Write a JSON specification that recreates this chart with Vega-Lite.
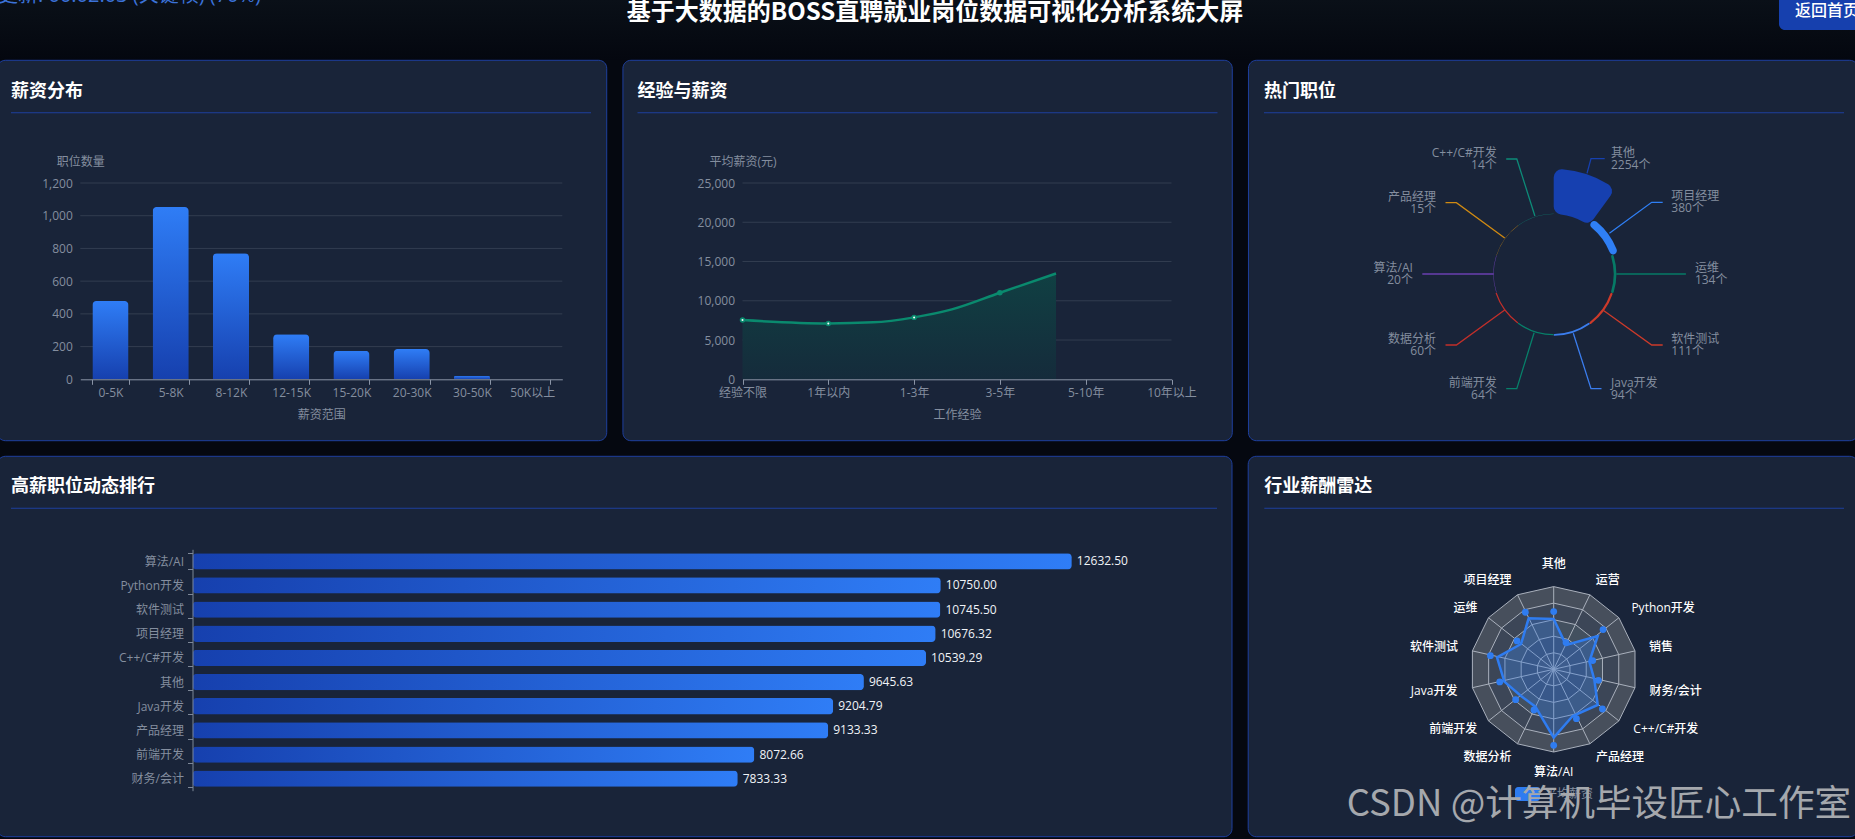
{
  "$schema": "https://vega.github.io/schema/vega-lite/v6.json",
  "width": 1855,
  "height": 839,
  "autosize": "none",
  "padding": 0,
  "background": "#050810",
  "config": {
    "font": "'Open Sans', 'Noto Sans CJK SC'",
    "view": {"stroke": null},
    "axis": {
      "grid": false,
      "labelColor": "#848e9f",
      "labelFontSize": 12,
      "labelOverlap": false,
      "labelFlush": false,
      "titleColor": "#848e9f",
      "titleFontSize": 12,
      "titleFontWeight": "normal",
      "domainColor": "#8a94a6",
      "tickColor": "#8a94a6"
    }
  },
  "datasets": {
    "salary": [
      {"range": "0-5K", "count": 478},
      {"range": "5-8K", "count": 1053},
      {"range": "8-12K", "count": 770},
      {"range": "12-15K", "count": 275},
      {"range": "15-20K", "count": 175},
      {"range": "20-30K", "count": 185},
      {"range": "30-50K", "count": 22},
      {"range": "50K以上", "count": 0}
    ],
    "experience": [
      {"step": 0, "pay": 7543},
      {"step": 1, "pay": 7120},
      {"step": 1.52, "pay": 7250},
      {"step": 2, "pay": 7886},
      {"step": 2.44, "pay": 8900},
      {"step": 3, "pay": 11020},
      {"step": 3.654, "pay": 13480}
    ],
    "jobs": [
      {"job": "其他", "seat": 0, "seatEnd": 1, "count": 2254},
      {"job": "项目经理", "seat": 1, "seatEnd": 2, "count": 380},
      {"job": "运维", "seat": 2, "seatEnd": 3, "count": 134},
      {"job": "软件测试", "seat": 3, "seatEnd": 4, "count": 111},
      {"job": "Java开发", "seat": 4, "seatEnd": 5, "count": 94},
      {"job": "前端开发", "seat": 5, "seatEnd": 6, "count": 64},
      {"job": "数据分析", "seat": 6, "seatEnd": 7, "count": 60},
      {"job": "算法/AI", "seat": 7, "seatEnd": 8, "count": 20},
      {"job": "产品经理", "seat": 8, "seatEnd": 9, "count": 15},
      {"job": "C++/C#开发", "seat": 9, "seatEnd": 10, "count": 14}
    ],
    "leaders": [
      {"job": "其他", "seq": 0, "lx": 33.3, "ly": 100.7},
      {"job": "其他", "seq": 1, "lx": 37.3, "ly": 115.3},
      {"job": "其他", "seq": 2, "lx": 51, "ly": 115.3},
      {"job": "项目经理", "seq": 0, "lx": 55.7, "ly": 40.7},
      {"job": "项目经理", "seq": 1, "lx": 98, "ly": 71.7},
      {"job": "项目经理", "seq": 2, "lx": 109, "ly": 71.7},
      {"job": "运维", "seq": 0, "lx": 62.7, "ly": 0},
      {"job": "运维", "seq": 1, "lx": 121.6, "ly": 0},
      {"job": "运维", "seq": 2, "lx": 132.2, "ly": 0},
      {"job": "软件测试", "seq": 0, "lx": 50.2, "ly": -36.7},
      {"job": "软件测试", "seq": 1, "lx": 98, "ly": -71},
      {"job": "软件测试", "seq": 2, "lx": 109, "ly": -71},
      {"job": "Java开发", "seq": 0, "lx": 19.6, "ly": -59.3},
      {"job": "Java开发", "seq": 1, "lx": 37.3, "ly": -114.7},
      {"job": "Java开发", "seq": 2, "lx": 47.8, "ly": -114.7},
      {"job": "前端开发", "seq": 0, "lx": -19.6, "ly": -58.7},
      {"job": "前端开发", "seq": 1, "lx": -36.9, "ly": -114.7},
      {"job": "前端开发", "seq": 2, "lx": -47.5, "ly": -114.7},
      {"job": "数据分析", "seq": 0, "lx": -49, "ly": -36},
      {"job": "数据分析", "seq": 1, "lx": -97.3, "ly": -71},
      {"job": "数据分析", "seq": 2, "lx": -108.2, "ly": -71},
      {"job": "算法/AI", "seq": 0, "lx": -60, "ly": 0},
      {"job": "算法/AI", "seq": 1, "lx": -120.4, "ly": 0},
      {"job": "算法/AI", "seq": 2, "lx": -131.4, "ly": 0},
      {"job": "产品经理", "seq": 0, "lx": -49, "ly": 36},
      {"job": "产品经理", "seq": 1, "lx": -97.3, "ly": 71.3},
      {"job": "产品经理", "seq": 2, "lx": -108.2, "ly": 71.3},
      {"job": "C++/C#开发", "seq": 0, "lx": -18.8, "ly": 58},
      {"job": "C++/C#开发", "seq": 1, "lx": -36.9, "ly": 115},
      {"job": "C++/C#开发", "seq": 2, "lx": -47.5, "ly": 115}
    ],
    "jobLabels": [
      {"label": "其他\n2254个", "side": "right", "lx": 57.3, "ly": 115.3},
      {"label": "项目经理\n380个", "side": "right", "lx": 117.6, "ly": 71.7},
      {"label": "运维\n134个", "side": "right", "lx": 141.2, "ly": 0},
      {"label": "软件测试\n111个", "side": "right", "lx": 117.6, "ly": -71},
      {"label": "Java开发\n94个", "side": "right", "lx": 57.3, "ly": -114.7},
      {"label": "前端开发\n64个", "side": "left", "lx": -56.9, "ly": -114.7},
      {"label": "数据分析\n60个", "side": "left", "lx": -117.6, "ly": -71},
      {"label": "算法/AI\n20个", "side": "left", "lx": -140.8, "ly": 0},
      {"label": "产品经理\n15个", "side": "left", "lx": -117.6, "ly": 71.3},
      {"label": "C++/C#开发\n14个", "side": "left", "lx": -56.9, "ly": 115}
    ],
    "ranking": [
      {"job": "算法/AI", "pay": 12632.5},
      {"job": "Python开发", "pay": 10750},
      {"job": "软件测试", "pay": 10745.5},
      {"job": "项目经理", "pay": 10676.32},
      {"job": "C++/C#开发", "pay": 10539.29},
      {"job": "其他", "pay": 9645.63},
      {"job": "Java开发", "pay": 9204.79},
      {"job": "产品经理", "pay": 9133.33},
      {"job": "前端开发", "pay": 8072.66},
      {"job": "财务/会计", "pay": 7833.33}
    ],
    "radarGrid": [
      {"ring": 5, "i": 0, "gx": 0, "gy": 1}, {"ring": 5, "i": 1, "gx": 0.4339, "gy": 0.901}, {"ring": 5, "i": 2, "gx": 0.7818, "gy": 0.6235}, {"ring": 5, "i": 3, "gx": 0.9749, "gy": 0.2225}, {"ring": 5, "i": 4, "gx": 0.9749, "gy": -0.2225}, {"ring": 5, "i": 5, "gx": 0.7818, "gy": -0.6235}, {"ring": 5, "i": 6, "gx": 0.4339, "gy": -0.901}, {"ring": 5, "i": 7, "gx": 0, "gy": -1}, {"ring": 5, "i": 8, "gx": -0.4339, "gy": -0.901}, {"ring": 5, "i": 9, "gx": -0.7818, "gy": -0.6235}, {"ring": 5, "i": 10, "gx": -0.9749, "gy": -0.2225}, {"ring": 5, "i": 11, "gx": -0.9749, "gy": 0.2225}, {"ring": 5, "i": 12, "gx": -0.7818, "gy": 0.6235}, {"ring": 5, "i": 13, "gx": -0.4339, "gy": 0.901},
      {"ring": 4, "i": 0, "gx": 0, "gy": 0.8}, {"ring": 4, "i": 1, "gx": 0.3471, "gy": 0.7208}, {"ring": 4, "i": 2, "gx": 0.6254, "gy": 0.4988}, {"ring": 4, "i": 3, "gx": 0.7799, "gy": 0.178}, {"ring": 4, "i": 4, "gx": 0.7799, "gy": -0.178}, {"ring": 4, "i": 5, "gx": 0.6254, "gy": -0.4988}, {"ring": 4, "i": 6, "gx": 0.3471, "gy": -0.7208}, {"ring": 4, "i": 7, "gx": 0, "gy": -0.8}, {"ring": 4, "i": 8, "gx": -0.3471, "gy": -0.7208}, {"ring": 4, "i": 9, "gx": -0.6254, "gy": -0.4988}, {"ring": 4, "i": 10, "gx": -0.7799, "gy": -0.178}, {"ring": 4, "i": 11, "gx": -0.7799, "gy": 0.178}, {"ring": 4, "i": 12, "gx": -0.6254, "gy": 0.4988}, {"ring": 4, "i": 13, "gx": -0.3471, "gy": 0.7208},
      {"ring": 3, "i": 0, "gx": 0, "gy": 0.6}, {"ring": 3, "i": 1, "gx": 0.2603, "gy": 0.5406}, {"ring": 3, "i": 2, "gx": 0.4691, "gy": 0.3741}, {"ring": 3, "i": 3, "gx": 0.5849, "gy": 0.1335}, {"ring": 3, "i": 4, "gx": 0.5849, "gy": -0.1335}, {"ring": 3, "i": 5, "gx": 0.4691, "gy": -0.3741}, {"ring": 3, "i": 6, "gx": 0.2603, "gy": -0.5406}, {"ring": 3, "i": 7, "gx": 0, "gy": -0.6}, {"ring": 3, "i": 8, "gx": -0.2603, "gy": -0.5406}, {"ring": 3, "i": 9, "gx": -0.4691, "gy": -0.3741}, {"ring": 3, "i": 10, "gx": -0.5849, "gy": -0.1335}, {"ring": 3, "i": 11, "gx": -0.5849, "gy": 0.1335}, {"ring": 3, "i": 12, "gx": -0.4691, "gy": 0.3741}, {"ring": 3, "i": 13, "gx": -0.2603, "gy": 0.5406},
      {"ring": 2, "i": 0, "gx": 0, "gy": 0.4}, {"ring": 2, "i": 1, "gx": 0.1736, "gy": 0.3604}, {"ring": 2, "i": 2, "gx": 0.3127, "gy": 0.2494}, {"ring": 2, "i": 3, "gx": 0.39, "gy": 0.089}, {"ring": 2, "i": 4, "gx": 0.39, "gy": -0.089}, {"ring": 2, "i": 5, "gx": 0.3127, "gy": -0.2494}, {"ring": 2, "i": 6, "gx": 0.1736, "gy": -0.3604}, {"ring": 2, "i": 7, "gx": 0, "gy": -0.4}, {"ring": 2, "i": 8, "gx": -0.1736, "gy": -0.3604}, {"ring": 2, "i": 9, "gx": -0.3127, "gy": -0.2494}, {"ring": 2, "i": 10, "gx": -0.39, "gy": -0.089}, {"ring": 2, "i": 11, "gx": -0.39, "gy": 0.089}, {"ring": 2, "i": 12, "gx": -0.3127, "gy": 0.2494}, {"ring": 2, "i": 13, "gx": -0.1736, "gy": 0.3604},
      {"ring": 1, "i": 0, "gx": 0, "gy": 0.2}, {"ring": 1, "i": 1, "gx": 0.0868, "gy": 0.1802}, {"ring": 1, "i": 2, "gx": 0.1564, "gy": 0.1247}, {"ring": 1, "i": 3, "gx": 0.195, "gy": 0.0445}, {"ring": 1, "i": 4, "gx": 0.195, "gy": -0.0445}, {"ring": 1, "i": 5, "gx": 0.1564, "gy": -0.1247}, {"ring": 1, "i": 6, "gx": 0.0868, "gy": -0.1802}, {"ring": 1, "i": 7, "gx": 0, "gy": -0.2}, {"ring": 1, "i": 8, "gx": -0.0868, "gy": -0.1802}, {"ring": 1, "i": 9, "gx": -0.1564, "gy": -0.1247}, {"ring": 1, "i": 10, "gx": -0.195, "gy": -0.0445}, {"ring": 1, "i": 11, "gx": -0.195, "gy": 0.0445}, {"ring": 1, "i": 12, "gx": -0.1564, "gy": 0.1247}, {"ring": 1, "i": 13, "gx": -0.0868, "gy": 0.1802}
    ],
    "radarSpokes": [
      {"spoke": 0, "end": 0, "gx": 0, "gy": 1}, {"spoke": 0, "end": 1, "gx": 0, "gy": -1},
      {"spoke": 1, "end": 0, "gx": 0.4339, "gy": 0.901}, {"spoke": 1, "end": 1, "gx": -0.4339, "gy": -0.901},
      {"spoke": 2, "end": 0, "gx": 0.7818, "gy": 0.6235}, {"spoke": 2, "end": 1, "gx": -0.7818, "gy": -0.6235},
      {"spoke": 3, "end": 0, "gx": 0.9749, "gy": 0.2225}, {"spoke": 3, "end": 1, "gx": -0.9749, "gy": -0.2225},
      {"spoke": 4, "end": 0, "gx": 0.9749, "gy": -0.2225}, {"spoke": 4, "end": 1, "gx": -0.9749, "gy": 0.2225},
      {"spoke": 5, "end": 0, "gx": 0.7818, "gy": -0.6235}, {"spoke": 5, "end": 1, "gx": -0.7818, "gy": 0.6235},
      {"spoke": 6, "end": 0, "gx": 0.4339, "gy": -0.901}, {"spoke": 6, "end": 1, "gx": -0.4339, "gy": 0.901}
    ],
    "radar": [
      {"job": "其他", "i": 0, "dotX": 0, "dotY": 0.698, "lineX": 0, "lineY": 0.609, "labelX": 0, "labelY": 1.27},
      {"job": "运营", "i": 1, "dotX": 0.148, "dotY": 0.323, "lineX": 0.148, "lineY": 0.294, "labelX": 0.649, "labelY": 1.076},
      {"job": "Python开发", "i": 2, "dotX": 0.592, "dotY": 0.48, "lineX": 0.528, "lineY": 0.403, "labelX": 1.312, "labelY": 0.746},
      {"job": "销售", "i": 3, "dotX": 0.468, "dotY": 0.105, "lineX": 0.428, "lineY": 0.093, "labelX": 1.288, "labelY": 0.275},
      {"job": "财务/会计", "i": 4, "dotX": 0.536, "dotY": -0.133, "lineX": 0.488, "lineY": -0.129, "labelX": 1.462, "labelY": -0.258},
      {"job": "C++/C#开发", "i": 5, "dotX": 0.584, "dotY": -0.48, "lineX": 0.528, "lineY": -0.431, "labelX": 1.345, "labelY": -0.726},
      {"job": "产品经理", "i": 6, "dotX": 0.272, "dotY": -0.597, "lineX": 0.228, "lineY": -0.565, "labelX": 0.795, "labelY": -1.056},
      {"job": "算法/AI", "i": 7, "dotX": 0, "dotY": -0.919, "lineX": 0, "lineY": -0.827, "labelX": 0, "labelY": -1.245},
      {"job": "数据分析", "i": 8, "dotX": -0.236, "dotY": -0.492, "lineX": -0.22, "lineY": -0.452, "labelX": -0.795, "labelY": -1.056},
      {"job": "前端开发", "i": 9, "dotX": -0.456, "dotY": -0.367, "lineX": -0.392, "lineY": -0.323, "labelX": -1.204, "labelY": -0.726},
      {"job": "Java开发", "i": 10, "dotX": -0.647, "dotY": -0.153, "lineX": -0.592, "lineY": -0.149, "labelX": -1.434, "labelY": -0.258},
      {"job": "软件测试", "i": 11, "dotX": -0.759, "dotY": 0.165, "lineX": -0.68, "lineY": 0.145, "labelX": -1.434, "labelY": 0.275},
      {"job": "运维", "i": 12, "dotX": -0.44, "dotY": 0.343, "lineX": -0.392, "lineY": 0.306, "labelX": -1.058, "labelY": 0.746},
      {"job": "项目经理", "i": 13, "dotX": -0.34, "dotY": 0.69, "lineX": -0.3, "lineY": 0.617, "labelX": -0.795, "labelY": 1.076}
    ]
  },
  "resolve": {
    "scale": {"x": "independent", "y": "independent", "color": "independent", "fill": "independent", "theta": "independent", "radius": "independent"},
    "axis": {"x": "independent", "y": "independent"}
  },
  "layer": [
    {
      "data": {"values": [{"area": "header"}]},
      "mark": {"type": "rect", "fill": {"gradient": "linear", "x1": 0, "y1": 0, "x2": 0, "y2": 1, "stops": [{"offset": 0, "color": "#0a1018"}, {"offset": 1, "color": "#04070f"}]}},
      "encoding": {
        "x": {"field": "area", "type": "nominal", "axis": null, "scale": {"type": "band", "range": [0, 1855], "paddingInner": 0, "paddingOuter": 0}},
        "y": {"field": "area", "type": "nominal", "axis": null, "scale": {"type": "band", "range": [0, 60], "paddingInner": 0, "paddingOuter": 0}}
      }
    },
    {
      "data": {"values": [{"title": "基于大数据的BOSS直聘就业岗位数据可视化分析系统大屏"}]},
      "mark": {"type": "text", "font": "Noto Sans CJK SC", "fontSize": 24, "fontWeight": "bold", "color": "#ffffff", "align": "center", "baseline": "middle"},
      "encoding": {
        "x": {"field": "title", "type": "nominal", "axis": null, "scale": {"type": "band", "range": [627, 1243], "paddingInner": 0, "paddingOuter": 0}},
        "y": {"field": "title", "type": "nominal", "axis": null, "scale": {"type": "band", "range": [0, 26], "paddingInner": 0, "paddingOuter": 0}},
        "text": {"field": "title"}
      }
    },
    {
      "data": {"values": [{"status": "更新: 00:02:03 (关键帧) (70%)"}]},
      "mark": {"type": "text", "fontSize": 20, "color": "#3b72d8", "align": "left", "baseline": "middle"},
      "encoding": {
        "x": {"field": "status", "type": "nominal", "bandPosition": 0, "axis": null, "scale": {"type": "band", "range": [-2, 260], "paddingInner": 0, "paddingOuter": 0}},
        "y": {"field": "status", "type": "nominal", "axis": null, "scale": {"type": "band", "range": [-13, 5], "paddingInner": 0, "paddingOuter": 0}},
        "text": {"field": "status"}
      }
    },
    {
      "data": {"values": [{"button": "返回首页"}]},
      "encoding": {
        "x": {"field": "button", "type": "nominal", "axis": null, "scale": {"type": "band", "range": [1779, 1870], "paddingInner": 0, "paddingOuter": 0}},
        "y": {"field": "button", "type": "nominal", "axis": null, "scale": {"type": "band", "range": [-8, 30], "paddingInner": 0, "paddingOuter": 0}}
      },
      "layer": [
        {"mark": {"type": "rect", "fill": "#1640ae", "cornerRadius": 6}},
        {
          "mark": {"type": "text", "fontSize": 16, "fontWeight": 500, "color": "#ffffff", "align": "left", "baseline": "middle", "dx": 16},
          "encoding": {
            "x": {"field": "button", "type": "nominal", "bandPosition": 0},
            "text": {"field": "button"}
          }
        }
      ]
    },
    {
      "data": {"values": [{"panel": "薪资分布"}, {"panel": "经验与薪资"}, {"panel": "热门职位"}]},
      "mark": {"type": "rect", "fill": "#192439", "stroke": "#1e3f9e", "strokeWidth": 1, "cornerRadius": 8},
      "encoding": {
        "x": {"field": "panel", "type": "nominal", "sort": null, "axis": null, "scale": {"type": "band", "range": [-2.6, 1857.8], "paddingInner": 0.0259, "paddingOuter": 0}},
        "y": {"datum": "row", "type": "nominal", "axis": null, "scale": {"type": "band", "domain": ["row"], "range": [60.3, 440.7], "paddingInner": 0, "paddingOuter": 0}}
      }
    },
    {
      "data": {"values": [{"panel": "高薪职位动态排行"}]},
      "mark": {"type": "rect", "fill": "#192439", "stroke": "#1e3f9e", "strokeWidth": 1, "cornerRadius": 8},
      "encoding": {
        "x": {"field": "panel", "type": "nominal", "axis": null, "scale": {"type": "band", "range": [-2.6, 1232], "paddingInner": 0, "paddingOuter": 0}},
        "y": {"field": "panel", "type": "nominal", "axis": null, "scale": {"type": "band", "range": [456.3, 836.7], "paddingInner": 0, "paddingOuter": 0}}
      }
    },
    {
      "data": {"values": [{"panel": "行业薪酬雷达"}]},
      "mark": {"type": "rect", "fill": "#192439", "stroke": "#1e3f9e", "strokeWidth": 1, "cornerRadius": 8},
      "encoding": {
        "x": {"field": "panel", "type": "nominal", "axis": null, "scale": {"type": "band", "range": [1248.2, 1857.8], "paddingInner": 0, "paddingOuter": 0}},
        "y": {"field": "panel", "type": "nominal", "axis": null, "scale": {"type": "band", "range": [456.3, 836.7], "paddingInner": 0, "paddingOuter": 0}}
      }
    },
    {
      "data": {"values": [{"panel": "薪资分布"}, {"panel": "经验与薪资"}, {"panel": "热门职位"}]},
      "encoding": {
        "x": {"field": "panel", "type": "nominal", "sort": null, "axis": null, "scale": {"type": "band", "range": [11, 1844], "paddingInner": 0.0742, "paddingOuter": 0}},
        "y": {"datum": "rule", "type": "nominal", "axis": null, "scale": {"type": "band", "domain": ["rule"], "range": [112.2, 113.2], "paddingInner": 0, "paddingOuter": 0}}
      },
      "layer": [
        {"mark": {"type": "rect", "fill": "#1e3f9e"}},
        {
          "mark": {"type": "text", "font": "Noto Sans CJK SC", "fontSize": 18, "fontWeight": "bold", "color": "#ffffff", "align": "left", "baseline": "middle", "dy": -21},
          "encoding": {
            "x": {"field": "panel", "type": "nominal", "sort": null, "bandPosition": 0},
            "text": {"field": "panel"}
          }
        }
      ]
    },
    {
      "data": {"values": [{"panel": "高薪职位动态排行"}]},
      "encoding": {
        "x": {"field": "panel", "type": "nominal", "axis": null, "scale": {"type": "band", "range": [11, 1217], "paddingInner": 0, "paddingOuter": 0}},
        "y": {"field": "panel", "type": "nominal", "axis": null, "scale": {"type": "band", "range": [507.8, 508.8], "paddingInner": 0, "paddingOuter": 0}}
      },
      "layer": [
        {"mark": {"type": "rect", "fill": "#1e3f9e"}},
        {
          "mark": {"type": "text", "font": "Noto Sans CJK SC", "fontSize": 18, "fontWeight": "bold", "color": "#ffffff", "align": "left", "baseline": "middle", "dy": -21},
          "encoding": {
            "x": {"field": "panel", "type": "nominal", "bandPosition": 0},
            "text": {"field": "panel"}
          }
        }
      ]
    },
    {
      "data": {"values": [{"panel": "行业薪酬雷达"}]},
      "encoding": {
        "x": {"field": "panel", "type": "nominal", "axis": null, "scale": {"type": "band", "range": [1264.3, 1844], "paddingInner": 0, "paddingOuter": 0}},
        "y": {"field": "panel", "type": "nominal", "axis": null, "scale": {"type": "band", "range": [507.8, 508.8], "paddingInner": 0, "paddingOuter": 0}}
      },
      "layer": [
        {"mark": {"type": "rect", "fill": "#1e3f9e"}},
        {
          "mark": {"type": "text", "font": "Noto Sans CJK SC", "fontSize": 18, "fontWeight": "bold", "color": "#ffffff", "align": "left", "baseline": "middle", "dy": -21},
          "encoding": {
            "x": {"field": "panel", "type": "nominal", "bandPosition": 0},
            "text": {"field": "panel"}
          }
        }
      ]
    },
    {
      "data": {"values": [{"count": 200}, {"count": 400}, {"count": 600}, {"count": 800}, {"count": 1000}, {"count": 1200}]},
      "mark": {"type": "rule", "color": "#323d50", "strokeWidth": 1},
      "encoding": {
        "x": {"datum": 0, "type": "quantitative", "axis": null, "scale": {"domain": [0, 1], "range": [80.3, 562.3], "nice": false}},
        "x2": {"datum": 1},
        "y": {"field": "count", "type": "quantitative", "axis": null, "scale": {"domain": [0, 1200], "range": [379.3, 183], "nice": false}}
      }
    },
    {
      "data": {"name": "salary"},
      "mark": {"type": "bar", "cornerRadiusEnd": 4, "fill": {"gradient": "linear", "x1": 0, "y1": 0, "x2": 0, "y2": 1, "stops": [{"offset": 0, "color": "#2f7df6"}, {"offset": 1, "color": "#1640ae"}]}},
      "encoding": {
        "x": {
          "field": "range", "type": "nominal", "sort": null,
          "scale": {"type": "band", "range": [80.3, 562.3], "paddingInner": 0.4, "paddingOuter": 0.2},
          "axis": {"orient": "bottom", "offset": -459.7, "zindex": 1, "labelAngle": 0, "tickBand": "extent", "tickSize": 5, "labelPadding": 3, "title": "薪资范围", "titleY": 35, "titleBaseline": "middle"}
        },
        "y": {
          "field": "count", "type": "quantitative",
          "scale": {"domain": [0, 1200], "range": [379.3, 183], "nice": false},
          "axis": {"orient": "left", "offset": -80.3, "zindex": 1, "domain": false, "ticks": false, "tickSize": 0, "labelPadding": 8, "values": [0, 200, 400, 600, 800, 1000, 1200], "title": "职位数量", "titleAngle": 0, "titleAlign": "center", "titleBaseline": "middle", "titleX": 0, "titleY": 161.7}
        }
      }
    },
    {
      "data": {"values": [{"pay": 5000}, {"pay": 10000}, {"pay": 15000}, {"pay": 20000}, {"pay": 25000}]},
      "mark": {"type": "rule", "color": "#323d50", "strokeWidth": 1},
      "encoding": {
        "x": {"datum": 0, "type": "quantitative", "axis": null, "scale": {"domain": [0, 1], "range": [742.5, 1171.5], "nice": false}},
        "x2": {"datum": 1},
        "y": {"field": "pay", "type": "quantitative", "axis": null, "scale": {"domain": [0, 25000], "range": [379.3, 183], "nice": false}}
      }
    },
    {
      "data": {"name": "experience"},
      "encoding": {
        "x": {
          "field": "step", "type": "quantitative",
          "scale": {"domain": [0, 5], "range": [742.5, 1171.5], "nice": false},
          "axis": {"orient": "bottom", "offset": -459.7, "zindex": 1, "values": [0, 1, 2, 3, 4, 5], "labelExpr": "['经验不限','1年以内','1-3年','3-5年','5-10年','10年以上'][datum.value]", "tickSize": 5, "labelPadding": 3, "title": "工作经验", "titleY": 35, "titleBaseline": "middle"}
        },
        "y": {
          "field": "pay", "type": "quantitative",
          "scale": {"domain": [0, 25000], "range": [379.3, 183], "nice": false},
          "axis": {"orient": "left", "offset": -742.5, "zindex": 1, "domain": false, "ticks": false, "tickSize": 0, "labelPadding": 8, "values": [0, 5000, 10000, 15000, 20000, 25000], "title": "平均薪资(元)", "titleAngle": 0, "titleAlign": "center", "titleBaseline": "middle", "titleX": 0, "titleY": 161.7}
        }
      },
      "layer": [
        {
          "mark": {"type": "area", "interpolate": "monotone", "fill": {"gradient": "linear", "x1": 0, "y1": 0, "x2": 0, "y2": 1, "stops": [{"offset": 0, "color": "#104043"}, {"offset": 1, "color": "#152b3b"}]}}
        },
        {
          "mark": {"type": "line", "interpolate": "monotone", "stroke": "#0a8a6e", "strokeWidth": 2.5}
        },
        {
          "transform": [{"filter": "datum.step % 1 === 0"}],
          "mark": {"type": "point", "filled": true, "size": 30, "color": "#0a8a6e", "opacity": 1}
        },
        {
          "transform": [{"filter": "datum.step % 1 === 0 && datum.step < 3"}],
          "mark": {"type": "point", "filled": true, "size": 4, "color": "#ffffff", "opacity": 1}
        }
      ]
    },
    {
      "layer": [
        {
          "data": {"name": "jobs"},
          "mark": {"type": "arc", "cornerRadius": 8, "innerRadius": 60},
          "encoding": {
            "x": {"datum": 0, "type": "quantitative", "axis": null, "scale": {"domain": [-200, 200], "range": [1353.7, 1753.7], "nice": false, "zero": false}},
            "y": {"datum": 0, "type": "quantitative", "axis": null, "scale": {"domain": [-200, 200], "range": [474, 74], "nice": false, "zero": false}},
            "theta": {"field": "seat", "type": "quantitative", "scale": {"domain": [0, 10], "range": [0, 6.28318530718]}},
            "theta2": {"field": "seatEnd"},
            "radius": {"field": "count", "type": "quantitative", "scale": {"type": "linear", "domain": [0, 2254], "range": [60, 105], "zero": true, "nice": false}},
            "color": {
              "field": "job", "type": "nominal", "legend": null,
              "scale": {
                "domain": ["其他", "项目经理", "运维", "软件测试", "Java开发", "前端开发", "数据分析", "算法/AI", "产品经理", "C++/C#开发"],
                "range": ["#1640b0", "#2f7ff5", "#067a66", "#cc3a2a", "#3b7dee", "#07806a", "#c22f2a", "#6a3fb0", "#d08a12", "#0d8a78"]
              }
            }
          }
        },
        {
          "data": {"name": "leaders"},
          "mark": {"type": "line", "strokeWidth": 1.3},
          "encoding": {
            "x": {"field": "lx", "type": "quantitative", "axis": null, "scale": {"domain": [-200, 200], "range": [1353.7, 1753.7], "nice": false, "zero": false}},
            "y": {"field": "ly", "type": "quantitative", "axis": null, "scale": {"domain": [-200, 200], "range": [474, 74], "nice": false, "zero": false}},
            "order": {"field": "seq", "type": "quantitative"},
            "color": {
              "field": "job", "type": "nominal", "legend": null,
              "scale": {
                "domain": ["其他", "项目经理", "运维", "软件测试", "Java开发", "前端开发", "数据分析", "算法/AI", "产品经理", "C++/C#开发"],
                "range": ["#1640b0", "#2f7ff5", "#067a66", "#cc3a2a", "#3b7dee", "#07806a", "#c22f2a", "#6a3fb0", "#d08a12", "#0d8a78"]
              }
            }
          }
        },
        {
          "data": {"name": "jobLabels"},
          "transform": [{"filter": "datum.side === 'right'"}],
          "mark": {"type": "text", "align": "left", "baseline": "middle", "dy": -6, "fontSize": 12, "lineBreak": "\n", "lineHeight": 12, "color": "#848e9f"},
          "encoding": {
            "x": {"field": "lx", "type": "quantitative", "axis": null, "scale": {"domain": [-200, 200], "range": [1353.7, 1753.7], "nice": false, "zero": false}},
            "y": {"field": "ly", "type": "quantitative", "axis": null, "scale": {"domain": [-200, 200], "range": [474, 74], "nice": false, "zero": false}},
            "text": {"field": "label"}
          }
        },
        {
          "data": {"name": "jobLabels"},
          "transform": [{"filter": "datum.side === 'left'"}],
          "mark": {"type": "text", "align": "right", "baseline": "middle", "dy": -6, "fontSize": 12, "lineBreak": "\n", "lineHeight": 12, "color": "#848e9f"},
          "encoding": {
            "x": {"field": "lx", "type": "quantitative", "axis": null, "scale": {"domain": [-200, 200], "range": [1353.7, 1753.7], "nice": false, "zero": false}},
            "y": {"field": "ly", "type": "quantitative", "axis": null, "scale": {"domain": [-200, 200], "range": [474, 74], "nice": false, "zero": false}},
            "text": {"field": "label"}
          }
        }
      ]
    },
    {
      "data": {"name": "ranking"},
      "encoding": {
        "x": {"field": "pay", "type": "quantitative", "axis": null, "scale": {"domain": [0, 12632.5], "range": [192.5, 1071.8], "nice": false}},
        "y": {
          "field": "job", "type": "nominal", "sort": null,
          "scale": {"type": "band", "range": [549.3, 790.7], "paddingInner": 0.325, "paddingOuter": 0.16},
          "axis": {"orient": "left", "offset": -192.5, "zindex": 1, "title": null, "tickBand": "extent", "tickSize": 5, "labelPadding": 4, "domainColor": "#7d8797", "tickColor": "#7d8797"}
        }
      },
      "layer": [
        {"mark": {"type": "bar", "cornerRadius": 4, "fill": {"gradient": "linear", "x1": 0, "y1": 0, "x2": 1, "y2": 0, "stops": [{"offset": 0, "color": "#1640ae"}, {"offset": 1, "color": "#2f7df6"}]}}},
        {
          "mark": {"type": "text", "align": "left", "baseline": "middle", "dx": 5, "fontSize": 12, "color": "#f0f3f7"},
          "encoding": {"text": {"field": "pay", "type": "quantitative", "format": ".2f"}}
        }
      ]
    },
    {
      "layer": [
        {
          "data": {"name": "radarGrid"},
          "mark": {"type": "line", "interpolate": "linear-closed", "stroke": "#a9b0bc", "strokeWidth": 1},
          "encoding": {
            "x": {"field": "gx", "type": "quantitative", "axis": null, "scale": {"domain": [-1, 1], "range": [1470.3, 1637.1], "nice": false, "zero": false}},
            "y": {"field": "gy", "type": "quantitative", "axis": null, "scale": {"domain": [-1, 1], "range": [752, 586.6], "nice": false, "zero": false}},
            "order": {"field": "i", "type": "quantitative"},
            "fill": {
              "field": "ring", "type": "ordinal", "legend": null, "sort": null,
              "scale": {"domain": [5, 4, 3, 2, 1], "range": ["#474f5c", "#3c4657", "#43505f", "#3d4a5f", "#445064"]}
            }
          }
        },
        {
          "data": {"name": "radarSpokes"},
          "mark": {"type": "line", "stroke": "#a9b0bc", "strokeWidth": 1},
          "encoding": {
            "x": {"field": "gx", "type": "quantitative", "axis": null, "scale": {"domain": [-1, 1], "range": [1470.3, 1637.1], "nice": false, "zero": false}},
            "y": {"field": "gy", "type": "quantitative", "axis": null, "scale": {"domain": [-1, 1], "range": [752, 586.6], "nice": false, "zero": false}},
            "order": {"field": "end", "type": "quantitative"},
            "detail": {"field": "spoke", "type": "nominal"}
          }
        },
        {
          "data": {"name": "radar"},
          "mark": {"type": "line", "interpolate": "linear-closed", "stroke": "#2f7cf0", "strokeWidth": 2.5, "fill": "#2f7cf0", "fillOpacity": 0.3},
          "encoding": {
            "x": {"field": "lineX", "type": "quantitative", "axis": null, "scale": {"domain": [-1, 1], "range": [1470.3, 1637.1], "nice": false, "zero": false}},
            "y": {"field": "lineY", "type": "quantitative", "axis": null, "scale": {"domain": [-1, 1], "range": [752, 586.6], "nice": false, "zero": false}},
            "order": {"field": "i", "type": "quantitative"}
          }
        },
        {
          "data": {"name": "radar"},
          "mark": {"type": "point", "filled": true, "size": 46, "color": "#2f7cf0", "opacity": 1},
          "encoding": {
            "x": {"field": "dotX", "type": "quantitative", "axis": null, "scale": {"domain": [-1, 1], "range": [1470.3, 1637.1], "nice": false, "zero": false}},
            "y": {"field": "dotY", "type": "quantitative", "axis": null, "scale": {"domain": [-1, 1], "range": [752, 586.6], "nice": false, "zero": false}}
          }
        },
        {
          "data": {"name": "radar"},
          "mark": {"type": "text", "align": "center", "baseline": "middle", "fontSize": 12, "fontWeight": 500, "color": "#ffffff"},
          "encoding": {
            "x": {"field": "labelX", "type": "quantitative", "axis": null, "scale": {"domain": [-1, 1], "range": [1470.3, 1637.1], "nice": false, "zero": false}},
            "y": {"field": "labelY", "type": "quantitative", "axis": null, "scale": {"domain": [-1, 1], "range": [752, 586.6], "nice": false, "zero": false}},
            "text": {"field": "job"}
          }
        }
      ]
    },
    {
      "data": {"values": [{"series": "平均薪资"}]},
      "encoding": {
        "x": {"field": "series", "type": "nominal", "axis": null, "scale": {"type": "band", "range": [1515, 1540], "paddingInner": 0, "paddingOuter": 0}},
        "y": {"field": "series", "type": "nominal", "axis": null, "scale": {"type": "band", "range": [787, 801], "paddingInner": 0, "paddingOuter": 0}}
      },
      "layer": [
        {"mark": {"type": "rect", "fill": "#2f7cf0", "cornerRadius": 3}},
        {
          "mark": {"type": "text", "align": "left", "baseline": "middle", "dx": 5, "fontSize": 12, "color": "#848e9f"},
          "encoding": {
            "x": {"field": "series", "type": "nominal", "bandPosition": 1},
            "text": {"field": "series"}
          }
        }
      ]
    },
    {
      "data": {"values": [{"mark": "CSDN @计算机毕设匠心工作室"}]},
      "mark": {"type": "text", "font": "Noto Sans CJK SC", "align": "left", "baseline": "middle", "fontSize": 36.6, "color": "#a5a8ad"},
      "encoding": {
        "x": {"field": "mark", "type": "nominal", "bandPosition": 0, "axis": null, "scale": {"type": "band", "range": [1346.7, 1850], "paddingInner": 0, "paddingOuter": 0}},
        "y": {"field": "mark", "type": "nominal", "axis": null, "scale": {"type": "band", "range": [785, 825], "paddingInner": 0, "paddingOuter": 0}},
        "text": {"field": "mark"}
      }
    }
  ]
}
